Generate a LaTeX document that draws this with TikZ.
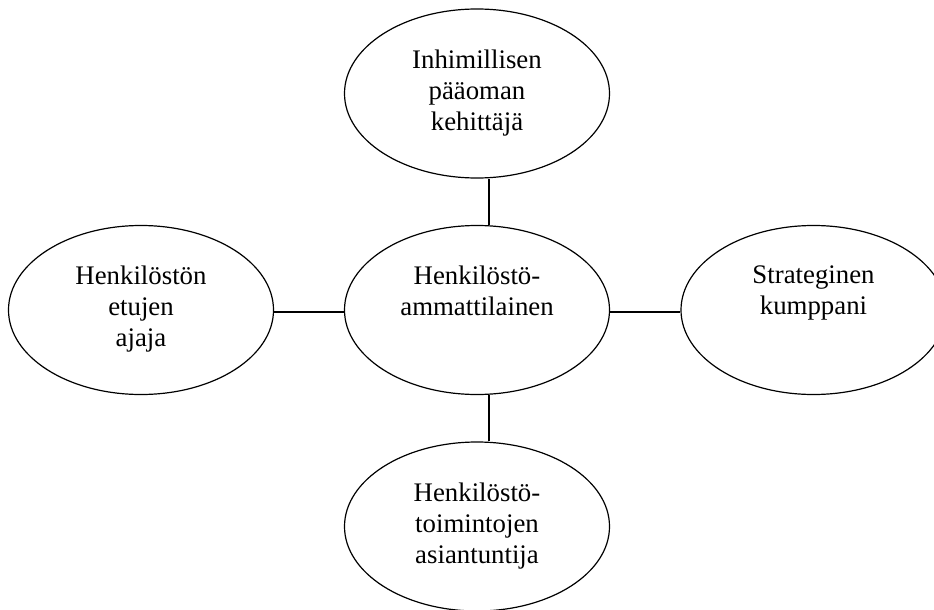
\documentclass[tikz,border=0pt]{standalone}
\usepackage{fontspec}
\setmainfont{Liberation Serif}
\usetikzlibrary{shapes.geometric}
\begin{document}
\begin{tikzpicture}[x=1pt,y=-1pt,
  bub/.style={ellipse, draw, line width=1.2pt, minimum width=265pt, minimum height=169pt, inner sep=0pt},
  lbl/.style={align=center, inner sep=0pt, anchor=north, font=\fontsize{26.8}{31}\selectfont},
  link/.style={line width=1.2pt}]
\useasboundingbox (0,0) rectangle (934,610);
\clip (0,0) rectangle (934,610);
\node[bub] (top) at (477,93.5) {};
\node[bub] (mid) at (477,310) {};
\node[bub] (left) at (141,310) {};
\node[bub] (right) at (813.5,310) {};
\node[bub] (bot) at (477,526.5) {};
\node[lbl] (topt) at ([yshift=44pt]top.center) {Inhimillisen\\pääoman\\kehittäjä};
\node[lbl] (midt) at ([yshift=44pt]mid.center) {Henkilöstö-\\ammattilainen};
\node[lbl] (leftt) at ([yshift=44pt]left.center) {Henkilöstön\\etujen\\ajaja};
\node[lbl] (rightt) at ([yshift=44pt]right.center) {Strateginen\\kumppani};
\node[lbl] (bott) at ([yshift=44pt]bot.center) {Henkilöstö-\\toimintojen\\asiantuntija};
\coordinate (vx) at (489,0);
\coordinate (hy) at (0,312);
\draw[link] (top.south -| vx) -- (mid.north -| vx);
\draw[link] (mid.south -| vx) -- (bot.north -| vx);
\draw[link] (left.east |- hy) -- (mid.west |- hy);
\draw[link] (mid.east |- hy) -- (right.west |- hy);
\end{tikzpicture}
\end{document}
